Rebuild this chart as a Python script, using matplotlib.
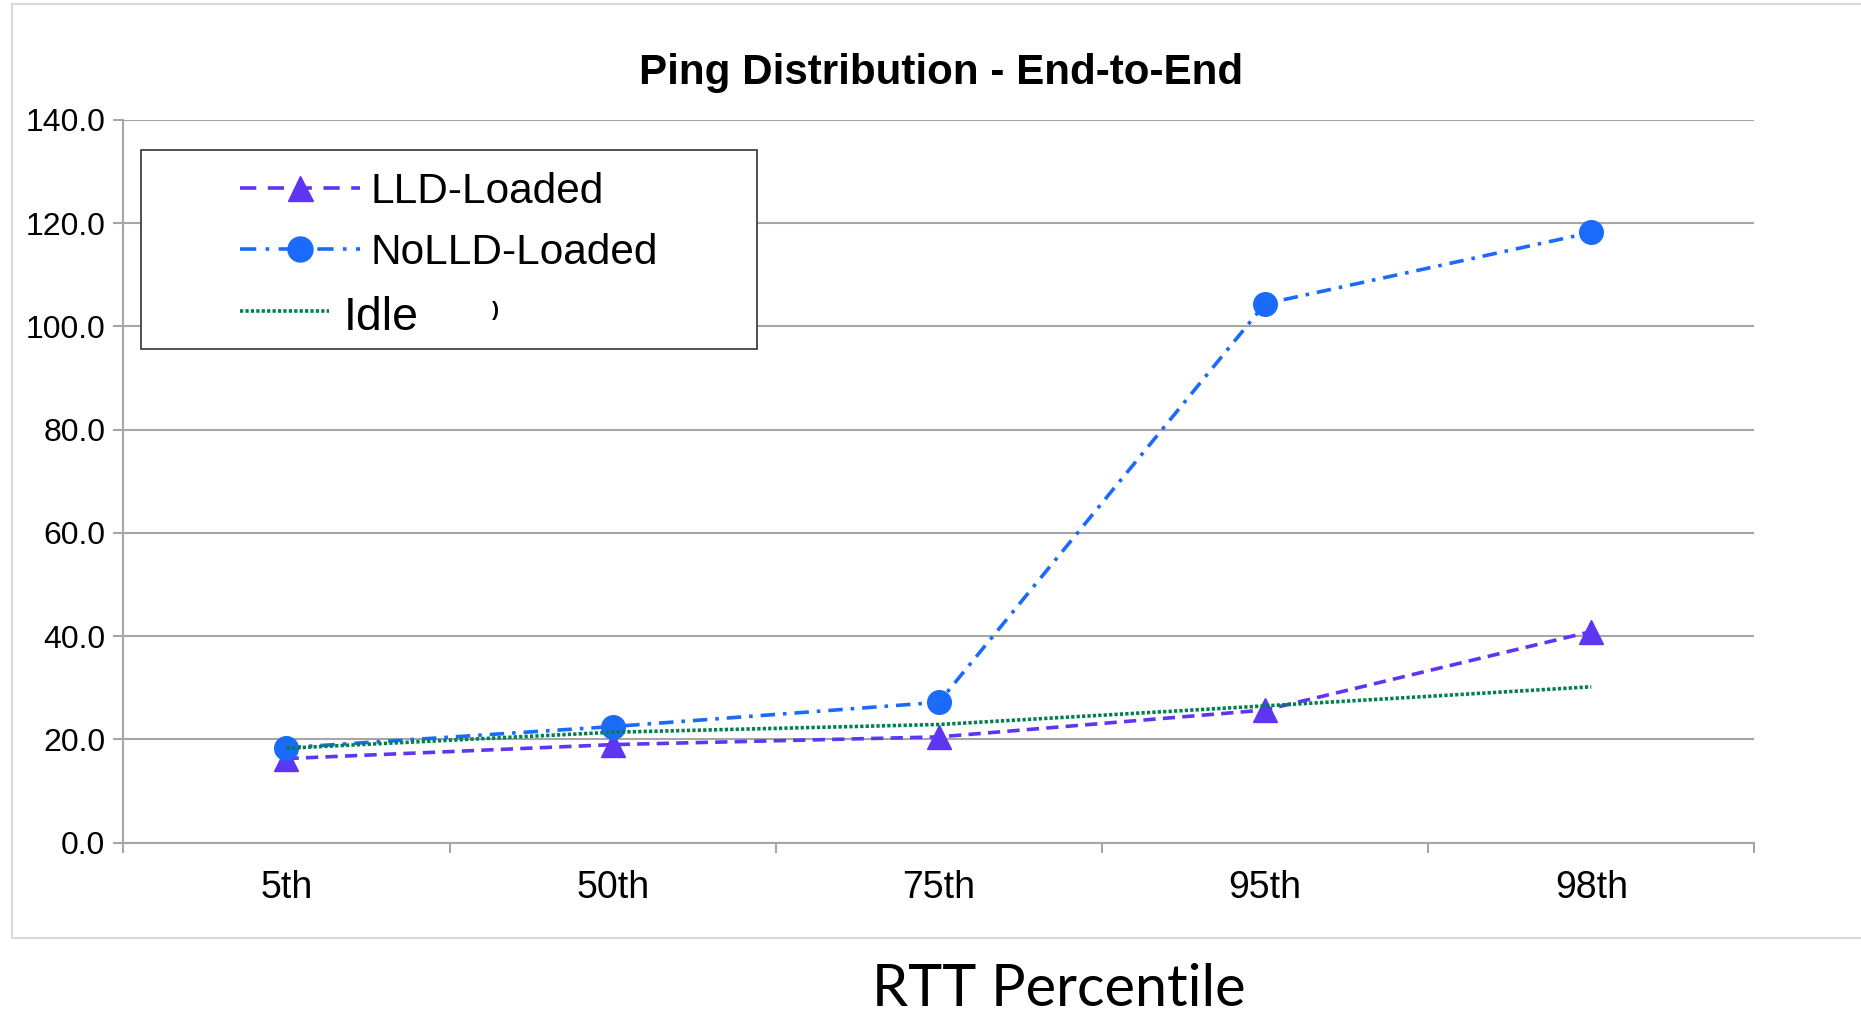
import matplotlib
matplotlib.use('Agg')
import matplotlib.pyplot as plt
from matplotlib.lines import Line2D
from matplotlib.patches import Rectangle

# 数据
percentiles = ['5th', '50th', '75th', '95th', '98th']
lld_loaded = [16.3, 19.0, 20.5, 25.7, 40.9]
nolld_loaded = [18.4, 22.5, 27.2, 104.4, 118.2]
idle = [18.3, 21.4, 22.9, 26.5, 30.2]
y_ticks = [0, 20, 40, 60, 80, 100, 120, 140]

c_lld = '#5e35f2'
c_nolld = '#1a6bfa'
c_idle = '#00804f'
c_grid = '#a6a6a6'

plt.rcParams['font.family'] = ['Liberation Sans', 'DejaVu Sans']

fig = plt.figure(figsize=(18.61, 10.19), dpi=100)
ax = fig.add_axes([0.0663, 0.1730, 0.8764, 0.7093])

# 外框
fig.patches.append(Rectangle((12 / 1861, 1 - 938 / 1019), 1.0, 934 / 1019,
                             transform=fig.transFigure, fill=False,
                             edgecolor='#d9d9d9', linewidth=1.5, zorder=0))

x = list(range(len(percentiles)))
ax.plot(x, lld_loaded, color=c_lld, linestyle=(0, (3.4, 2.0)), linewidth=2.6,
        marker='^', markersize=17, zorder=3)
ax.plot(x, nolld_loaded, color=c_nolld, linestyle=(0, (4.0, 2.2, 1.0, 2.2)), linewidth=2.6,
        marker='o', markersize=17, zorder=4)
ax.plot(x, idle, color=c_idle, linestyle=(0, (0.9, 0.6)), linewidth=2.6, zorder=5)

ax.set_xlim(-0.5, len(percentiles) - 0.5)
ax.set_ylim(0, 140)
ax.set_yticks(y_ticks)
ax.set_yticklabels(['%.1f' % v for v in y_ticks], fontsize=23)
ax.yaxis.grid(True, color=c_grid, linewidth=1.5)
ax.set_axisbelow(True)

ax.set_xticks(x)
ax.set_xticklabels(percentiles, fontsize=27)
ax.set_xticks([i - 0.5 for i in range(len(percentiles) + 1)], minor=True)
ax.tick_params(axis='x', which='major', length=0, pad=20)
ax.tick_params(axis='x', which='minor', length=7, width=1.5, color=c_grid, direction='out')
ax.tick_params(axis='y', length=7, width=1.5, color=c_grid, pad=6)

for s in ['top', 'right']:
    ax.spines[s].set_visible(False)
for s in ['left', 'bottom']:
    ax.spines[s].set_color(c_grid)
    ax.spines[s].set_linewidth(1.5)

# 图例（手动画）
def fx(px):
    return px / 1861

def fy(py):
    return 1 - py / 1019

fig.patches.append(Rectangle((fx(141), fy(349)), fx(757) - fx(141), fy(150) - fy(349),
                             transform=fig.transFigure, facecolor='white',
                             edgecolor='#333333', linewidth=1.2, zorder=10))
fig.add_artist(Line2D([fx(240), fx(360)], [fy(188), fy(188)], color=c_lld,
                      linestyle=(0, (4.5, 3.2)), linewidth=2.6, zorder=11))
fig.add_artist(Line2D([fx(300)], [fy(188)], color=c_lld, marker='^', markersize=18, zorder=12))
fig.add_artist(Line2D([fx(240), fx(360)], [fy(249), fy(249)], color=c_nolld,
                      linestyle=(0, (4.5, 2.6, 1.0, 2.6)), linewidth=2.6, zorder=11))
fig.add_artist(Line2D([fx(300)], [fy(249)], color=c_nolld, marker='o', markersize=18, zorder=12))
fig.add_artist(Line2D([fx(240), fx(329)], [fy(311), fy(311)], color=c_idle,
                      linestyle=(0, (0.9, 0.6)), linewidth=2.6, zorder=11))
fig.text(fx(370), fy(192), 'LLD-Loaded', fontsize=30.5, va='center', zorder=12)
fig.text(fx(370), fy(253), 'NoLLD-Loaded', fontsize=30.5, va='center', zorder=12)
fig.text(fx(344), fy(318), 'Idle', fontsize=33.5, va='center', zorder=12)
fig.text(fx(492), fy(311), ')', fontsize=15, fontweight='bold', va='center', zorder=12)

fig.text(0.5057, fy(73), 'Ping Distribution - End-to-End', fontsize=30.3,
         fontweight='bold', ha='center', va='center')
fig.text(fx(1059), fy(1006), 'RTT Percentile', fontsize=41.5, family=['Lato', 'DejaVu Sans'],
         ha='center', va='baseline')

fig.savefig('out.png', dpi=100)
